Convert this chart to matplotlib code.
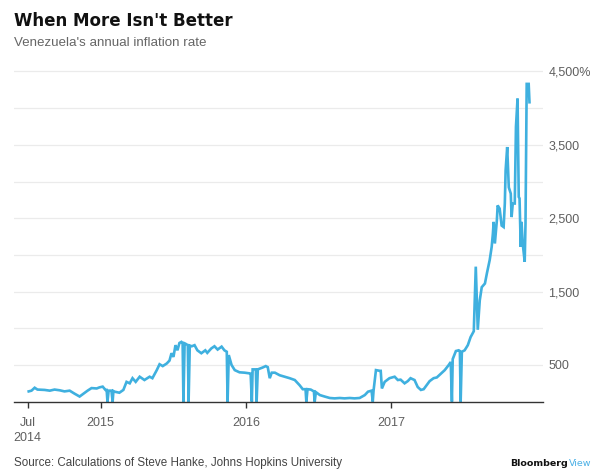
import matplotlib
matplotlib.use("Agg")
import matplotlib.pyplot as plt
import pandas as pd

dates = [
    "2014-07-04", "2014-07-11", "2014-07-19", "2014-07-26", "2014-08-13", "2014-08-26",
    "2014-09-07", "2014-09-20", "2014-10-02", "2014-10-15", "2014-10-27", "2014-11-09",
    "2014-11-19", "2014-11-29", "2014-12-09", "2014-12-22", "2014-12-29", "2015-01-06",
    "2015-01-13", "2015-01-16", "2015-01-18", "2015-01-21", "2015-01-28", "2015-01-31",
    "2015-02-02", "2015-02-05", "2015-02-17", "2015-02-27", "2015-03-07", "2015-03-15",
    "2015-03-22", "2015-03-30", "2015-04-09", "2015-04-21", "2015-05-04", "2015-05-11",
    "2015-05-22", "2015-05-29", "2015-06-06", "2015-06-16", "2015-06-23", "2015-06-28",
    "2015-07-03", "2015-07-08", "2015-07-13", "2015-07-18", "2015-07-23", "2015-07-26",
    "2015-07-28", "2015-07-31", "2015-08-02", "2015-08-08", "2015-08-10", "2015-08-13",
    "2015-08-18", "2015-08-25", "2015-09-01", "2015-09-11", "2015-09-21", "2015-09-26",
    "2015-10-06", "2015-10-14", "2015-10-22", "2015-11-01", "2015-11-08", "2015-11-14",
    "2015-11-16", "2015-11-19", "2015-11-26", "2015-12-04", "2015-12-16", "2015-12-29",
    "2016-01-11", "2016-01-13", "2016-01-16", "2016-01-18", "2016-01-26", "2016-01-28",
    "2016-01-31", "2016-02-12", "2016-02-20", "2016-02-25", "2016-03-01", "2016-03-06",
    "2016-03-14", "2016-03-26", "2016-04-08", "2016-04-20", "2016-05-03", "2016-05-15",
    "2016-05-23", "2016-05-30", "2016-06-01", "2016-06-04", "2016-06-12", "2016-06-20",
    "2016-06-22", "2016-06-25", "2016-07-05", "2016-07-17", "2016-07-30", "2016-08-11",
    "2016-08-24", "2016-09-05", "2016-09-18", "2016-09-30", "2016-10-13", "2016-10-26",
    "2016-11-03", "2016-11-12", "2016-11-15", "2016-11-17", "2016-11-23", "2016-12-03",
    "2016-12-05", "2016-12-08", "2016-12-15", "2016-12-27", "2017-01-09", "2017-01-17",
    "2017-01-24", "2017-02-03", "2017-02-11", "2017-02-18", "2017-02-28", "2017-03-08",
    "2017-03-16", "2017-03-23", "2017-03-31", "2017-04-07", "2017-04-17", "2017-04-25",
    "2017-05-05", "2017-05-15", "2017-05-25", "2017-05-30", "2017-06-02", "2017-06-04",
    "2017-06-12", "2017-06-19", "2017-06-22", "2017-06-24", "2017-06-27", "2017-07-04",
    "2017-07-12", "2017-07-19", "2017-07-27", "2017-08-01", "2017-08-06", "2017-08-11",
    "2017-08-16", "2017-08-24", "2017-08-29", "2017-09-05", "2017-09-10", "2017-09-13",
    "2017-09-15", "2017-09-18", "2017-09-23", "2017-09-25", "2017-09-30", "2017-10-05",
    "2017-10-10", "2017-10-13", "2017-10-15", "2017-10-19", "2017-10-23", "2017-10-28",
    "2017-10-30", "2017-11-02", "2017-11-07", "2017-11-10", "2017-11-14", "2017-11-17",
    "2017-11-19", "2017-11-22", "2017-11-24", "2017-11-27", "2017-12-02", "2017-12-04",
    "2017-12-07", "2017-12-12", "2017-12-14",
]
inflation = [
    140, 150, 190, 165, 160, 150,
    165, 155, 140, 150, 110, 70,
    110, 150, 185, 180, 195, 205,
    160, 160, 0, 150, 150, 0,
    145, 136, 122, 160, 270, 250,
    320, 270, 340, 295, 340, 320,
    430, 510, 485, 520, 560, 660,
    610, 770, 700, 800, 815, 800,
    0, 795, 790, 770, 0, 765,
    755, 770, 700, 660, 700, 665,
    725, 755, 710, 750, 700, 680,
    0, 635, 500, 430, 400, 395,
    385, 380, 0, 440, 440, 0,
    440, 465, 485, 470, 320, 395,
    395, 360, 340, 320, 295, 225,
    170, 170, 0, 170, 165, 140,
    0, 130, 90, 70, 50, 45,
    50, 45, 50, 45, 50, 90,
    136, 150, 0, 150, 430, 420,
    420, 180, 270, 320, 340, 295,
    300, 250, 280, 320, 295, 200,
    160, 170, 230, 280, 320, 330,
    380, 430, 500, 540, 0, 580,
    690, 700, 690, 0, 680, 700,
    770, 880, 960, 1840, 980, 1380,
    1560, 1610, 1750, 1930, 2110, 2290,
    2450, 2155, 2470, 2675, 2630, 2400,
    2380, 2700, 3150, 3470, 2920, 2835,
    2515, 2700, 2700, 3745, 4130, 2790,
    2770, 2110, 2450, 2155, 1905, 2425,
    4330, 4330, 4080,
]

y_ticks = [500, 1500, 2500, 3500, 4500]
y_tick_labels = ["500", "1,500", "2,500", "3,500", "4,500%"]
grid_levels = [500, 1000, 1500, 2000, 2500, 3000, 3500, 4000, 4500]
x_ticks = ["2014-07-01", "2015-01-01", "2016-01-01", "2017-01-01"]
x_tick_labels = ["Jul\n2014", "2015", "2016", "2017"]

title = "When More Isn't Better"
subtitle = "Venezuela's annual inflation rate"
source = "Source: Calculations of Steve Hanke, Johns Hopkins University"

LINE = "#3fb0df"
GRAY = "#5f5f5f"
FONT = "Liberation Sans"

fig = plt.figure(figsize=(6.0, 4.72), dpi=100)
ax = fig.add_axes([0.0233, 0.149, 0.8817, 0.723])

x = pd.to_datetime(dates)
ax.plot(x, inflation, color=LINE, lw=1.9, solid_joinstyle="miter", zorder=3)

for g in grid_levels:
    ax.axhline(g, color="#ebebeb", lw=0.9, zorder=1)

ax.set_ylim(0, 4650)
ax.set_xlim(pd.Timestamp("2014-05-28"), pd.Timestamp("2018-01-17"))

for s in ["top", "right", "left"]:
    ax.spines[s].set_visible(False)
ax.spines["bottom"].set_color("#333333")
ax.spines["bottom"].set_linewidth(1.0)
ax.spines["bottom"].set_zorder(4)

ax.yaxis.tick_right()
ax.set_yticks(y_ticks)
ax.set_yticklabels(y_tick_labels, fontfamily=FONT, fontsize=9, color=GRAY)
ax.tick_params(axis="y", length=0, pad=4)

ax.set_xticks(pd.to_datetime(x_ticks))
ax.set_xticklabels(x_tick_labels, fontfamily=FONT, fontsize=9, color=GRAY,
                   linespacing=1.3, va="top")
ax.tick_params(axis="x", length=4, width=1, color="#333333", pad=7)

fig.text(14 / 600, 1 - 21 / 472, title, fontfamily="DejaVu Sans", fontweight="bold",
         fontsize=12, color="#111111", va="center", ha="left")
fig.text(14 / 600, 1 - 43 / 472, subtitle, fontfamily=FONT, fontsize=9.6,
         color="#666666", va="center", ha="left")
fig.text(14 / 600, 1 - 463 / 472, source, fontfamily=FONT, fontsize=8.4,
         color="#444444", va="center", ha="left")

t1 = fig.text(510 / 600, 1 - 463 / 472, "Bloomberg", fontfamily="DejaVu Sans",
              fontweight="bold", fontsize=6.8, color="#111111", va="center", ha="left")
ax.annotate("View", xy=(1, 0.5), xycoords=t1, xytext=(0.5, 0), textcoords="offset points",
            fontfamily="DejaVu Sans", fontsize=6.8, color="#4ab0e6", va="center", ha="left",
            annotation_clip=False)

fig.savefig("out.png", dpi=100)
